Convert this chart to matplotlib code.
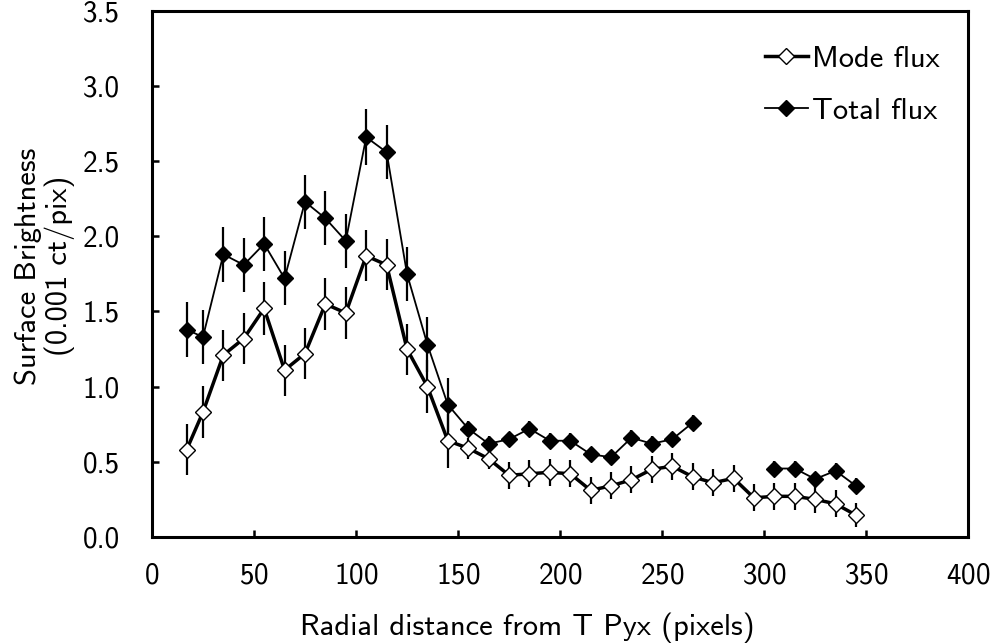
#!/usr/bin/env python3
import numpy as np
import matplotlib
matplotlib.use("Agg")
import matplotlib.pyplot as plt
from matplotlib.lines import Line2D

# -------------------------- data --------------------------
radius = [17, 25, 35, 45, 55, 65, 75, 85, 95, 105, 115, 125, 135, 145, 155, 165,
          175, 185, 195, 205, 215, 225, 235, 245, 255, 265, 275, 285, 295, 305,
          315, 325, 335, 345]

mode_flux = [0.58, 0.83, 1.21, 1.32, 1.52, 1.11, 1.22, 1.55, 1.49, 1.87, 1.81, 1.25,
             1.00, 0.64, 0.59, 0.52, 0.41, 0.42, 0.43, 0.42, 0.31, 0.34, 0.38, 0.45,
             0.47, 0.40, 0.36, 0.39, 0.26, 0.27, 0.27, 0.25, 0.22, 0.145]
mode_err = [0.17, 0.175, 0.17, 0.17, 0.175, 0.17, 0.17, 0.17, 0.17, 0.17, 0.17, 0.17,
            0.175, 0.18, 0.07, 0.07, 0.09, 0.09, 0.09, 0.09, 0.09, 0.09, 0.09, 0.09,
            0.09, 0.09, 0.09, 0.09, 0.09, 0.09, 0.09, 0.09, 0.09, 0.08]

total_flux = [1.38, 1.33, 1.88, 1.81, 1.95, 1.72, 2.23, 2.12, 1.97, 2.66, 2.56, 1.75,
              1.28, 0.88, 0.72, 0.62, 0.65, 0.72, 0.64, 0.64, 0.55, 0.53, 0.66, 0.62,
              0.65, 0.76, np.nan, np.nan, np.nan, 0.455, 0.455, 0.385, 0.44, 0.34]
total_err = [0.18, 0.18, 0.185, 0.18, 0.18, 0.18, 0.18, 0.18, 0.18, 0.185, 0.18, 0.18,
             0.18, 0.18, 0.05, 0.05, 0.05, 0.05, 0.05, 0.05, 0.05, 0.05, 0.05, 0.05,
             0.05, 0.05, np.nan, np.nan, np.nan, 0.05, 0.05, 0.05, 0.05, 0.05]

X_TICKS = [0, 50, 100, 150, 200, 250, 300, 350, 400]
Y_TICKS = [0.0, 0.5, 1.0, 1.5, 2.0, 2.5, 3.0, 3.5]
# --------------------------------------------------------------------------------

plt.rcParams['font.family'] = ['cmss10', 'DejaVu Sans']
plt.rcParams['axes.formatter.use_mathtext'] = True
FS_TICK = 21
FS_LAB = 22
FS_LEG = 22

TOTAL_STYLE = dict(color="black", lw=1.3, marker="D", ms=8.5, mfc="black", mec="black")
MODE_STYLE = dict(color="black", lw=2.5, marker="D", ms=8, mfc="white", mec="black", mew=1.0)

fig = plt.figure(figsize=(9.93, 6.43), dpi=100)
ax = fig.add_axes([0.153, 0.165, 0.822, 0.818])

ax.errorbar(radius, total_flux, yerr=total_err, elinewidth=1.6, capsize=0,
            zorder=2, **TOTAL_STYLE)
ax.errorbar(radius, mode_flux, yerr=mode_err, elinewidth=1.6, capsize=0,
            zorder=3, **MODE_STYLE)

ax.set_xlim(0, 400)
ax.set_ylim(0, 3.5)
ax.set_xticks(X_TICKS)
ax.set_yticks(Y_TICKS)
ax.set_yticklabels([f"{v:.1f}" for v in Y_TICKS])

for s in ax.spines.values():
    s.set_linewidth(2.2)
ax.tick_params(direction="in", length=5, width=1.8, labelsize=FS_TICK)
ax.tick_params(axis="x", pad=18.5)
ax.tick_params(axis="y", pad=23)
ax.tick_params(top=False, right=False)

ax.set_xlabel("Radial distance from T Pyx (pixels)", fontsize=FS_LAB)
ax.xaxis.set_label_coords(0.4596, -0.143)
ax.set_ylabel("Surface Brightness\n(0.001 ct/pix)", fontsize=FS_LAB,
              linespacing=1.1)
ax.yaxis.set_label_coords(-0.094, 0.515)

# legend handles without the error bar strokes
handles = [Line2D([], [], **MODE_STYLE), Line2D([], [], **TOTAL_STYLE)]
ax.legend(handles, ["Mode flux", "Total flux"], loc="upper left", frameon=False,
          fontsize=FS_LEG, handlelength=1.4, handletextpad=0.13, labelspacing=0.8,
          borderpad=0, borderaxespad=0, bbox_to_anchor=(0.751, 0.934))

fig.savefig("out.png", dpi=100)
plt.close(fig)
